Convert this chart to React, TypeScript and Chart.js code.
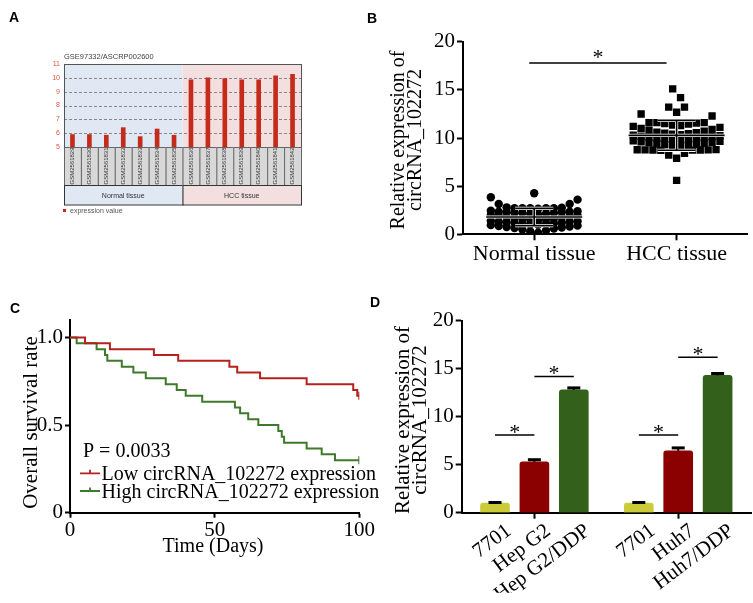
import React, { useEffect, useRef } from 'react';
import { Chart, registerables } from 'chart.js';
Chart.register(...registerables);

const SERIF = '"Liberation Serif", "Times New Roman", Times, serif';
const SANS = '"Liberation Sans", Arial, Helvetica, sans-serif';

// ---------------- Panel A data ----------------
const A_SAMPLES = ['GSM2561829', 'GSM2561830', 'GSM2561831', 'GSM2561832', 'GSM2561833', 'GSM2561834', 'GSM2561835', 'GSM2561836', 'GSM2561837', 'GSM2561838', 'GSM2561839', 'GSM2561840', 'GSM2561841', 'GSM2561842'];
const A_VALUES = [5.9, 5.9, 5.85, 6.4, 5.75, 6.3, 5.85, 9.85, 10.0, 9.95, 9.85, 9.85, 10.15, 10.25];
const A_GROUPS = ['Normal tissue', 'HCC tissue'];
const A_GROUP_SIZES = [7, 7];
const A_TITLE = 'GSE97332/ASCRP002600';
const A_LEGEND = 'expression value';
const A_Y_MIN = 5;
const A_Y_MAX = 11;

// ---------------- Panel B data ----------------
const B_CATEGORIES = ['Normal tissue', 'HCC tissue'];
const B_NORMAL = [0.17, 0.3, 0.4, 0.5, 0.6, 0.65, 0.7, 0.75, 0.8, 0.85, 0.9, 0.95,
  1.0, 1.05, 1.1, 1.1, 1.15, 1.2, 1.2, 1.25, 1.3, 1.3, 1.35, 1.4,
  1.45, 1.5, 1.55, 1.6, 1.65, 1.7, 1.75, 1.8, 1.85, 1.9, 1.95, 2.0,
  2.05, 2.1, 2.15, 2.2, 2.2, 2.25, 2.3, 2.3, 2.35, 2.35, 2.4, 2.45,
  2.65, 2.7, 2.7, 2.7, 2.7, 2.7, 2.75, 2.8, 3.15, 3.15, 3.6, 3.84,
  4.26];
const B_HCC = [5.6,
  7.9, 8.23, 8.4, 8.72, 8.74, 8.75, 8.75, 8.76, 8.77, 8.78, 8.8,
  9.15, 9.2, 9.25, 9.3, 9.35, 9.4, 9.45, 9.5, 9.55, 9.6, 9.65, 9.7,
  9.75, 9.8, 9.85, 9.9, 9.95, 10.0, 10.05, 10.1, 10.15, 10.2, 10.25, 10.3,
  10.35, 10.4, 10.45, 10.5, 10.55, 10.6, 10.7, 10.8, 10.9, 11.0, 11.1, 11.2,
  11.3, 11.35, 11.45, 11.5, 11.55, 11.6, 11.6, 11.6,
  12.28, 12.49, 12.67, 13.2, 13.2,
  14.2, 15.1];
const B_SIG_LABEL = '*';
const B_SIG_HEIGHT = 17.8;

// ---------------- Panel C data ----------------
const C_LOW_DAYS = [0, 5.2, 13.8, 29, 37.4, 55.1, 57.8, 65.7, 81.8, 97.9, 99.3, 100];
const C_LOW_SURV = [1, 0.967, 0.933, 0.9, 0.867, 0.833, 0.8, 0.767, 0.733, 0.7, 0.667, 0.667];
const C_HIGH_DAYS = [0, 2.3, 9.2, 12.1, 12.9, 17.9, 21.9, 26.2, 33.1, 36.9, 40.0, 45.7, 57.0, 58.8, 61.6, 65.1, 72.0, 73.2, 74.0, 81.8, 87.0, 91.6, 100];
const C_HIGH_SURV = [1, 0.967, 0.933, 0.9, 0.867, 0.833, 0.8, 0.767, 0.733, 0.7, 0.667, 0.633, 0.6, 0.567, 0.533, 0.5, 0.467, 0.433, 0.4, 0.367, 0.333, 0.3, 0.3];
const C_SERIES = ['Low circRNA_102272 expression', 'High circRNA_102272 expression'];
const C_COLORS = ['#b3221f', '#3d7a2b'];
const C_PVALUE = 'P = 0.0033';
const C_Y_TICKS = [0, 0.5, 1.0];
const C_X_TICKS = [0, 50, 100];

// ---------------- Panel D data ----------------
const D_LABELS = ['7701', 'Hep G2', 'Hep G2/DDP', '7701', 'Huh7', 'Huh7/DDP'];
const D_GROUP_OF = [0, 0, 0, 1, 1, 1];
const D_VALUES = [1.0, 5.3, 12.8, 1.0, 6.45, 14.3];
const D_ERRORS = [0.06, 0.22, 0.2, 0.06, 0.3, 0.2];
const D_COLORS = ['#cbcb38', '#8b0000', '#33601a', '#cbcb38', '#8b0000', '#33601a'];
const D_SIG_PAIRS = [[0, 1], [1, 2], [3, 4], [4, 5]];
const D_SIG_HEIGHTS = [8.1, 14.2, 8.1, 16.2];

const Y_TITLE = ['Relative expression of', 'circRNA_102272'];

// ---------------- helpers ----------------
function drawLetter(ctx: CanvasRenderingContext2D, t: string, x: number, y: number) {
  ctx.save();
  ctx.font = `bold 14px ${SANS}`;
  ctx.fillStyle = '#000';
  ctx.textAlign = 'left';
  ctx.textBaseline = 'alphabetic';
  ctx.fillText(t, x, y);
  ctx.restore();
}

function drawRotTitle(ctx: CanvasRenderingContext2D, lines: string[], xs: number[], cy: number, size: number) {
  ctx.save();
  ctx.font = `${size}px ${SERIF}`;
  ctx.fillStyle = '#000';
  ctx.textAlign = 'center';
  ctx.textBaseline = 'middle';
  lines.forEach((l, i) => {
    ctx.save();
    ctx.translate(xs[i], cy);
    ctx.rotate(-Math.PI / 2);
    ctx.fillText(l, 0, 0);
    ctx.restore();
  });
  ctx.restore();
}

// row-based spread: sorted values grouped into rows, lowest of each row in the centre
function swarm(values: number[], center: number, slot: number, rowH: number, maxPerRow: number) {
  const sorted = [...values].sort((a, b) => a - b);
  const rows: number[][] = [];
  let cur: number[] = [];
  for (const v of sorted) {
    if (cur.length && (v - cur[0] >= rowH || cur.length >= maxPerRow)) {
      rows.push(cur);
      cur = [];
    }
    cur.push(v);
  }
  if (cur.length) rows.push(cur);
  const pts: { x: number; y: number }[] = [];
  rows.forEach((row) => {
    const n = row.length;
    row.forEach((v, k) => {
      let s: number;
      if (n % 2 === 1) s = k === 0 ? 0 : k % 2 === 1 ? -(k + 1) / 2 : k / 2;
      else s = (k % 2 === 0 ? 1 : -1) * (Math.floor(k / 2) + 0.5);
      pts.push({ x: center + s * slot, y: v });
    });
  });
  return pts;
}

const mean = (a: number[]) => a.reduce((s, v) => s + v, 0) / a.length;
const sd = (a: number[]) => {
  const m = mean(a);
  return Math.sqrt(a.reduce((s, v) => s + (v - m) * (v - m), 0) / (a.length - 1));
};

const axisGrid = (tickLen: number, tickColor: any = '#000') => ({
  display: true,
  drawOnChartArea: false,
  drawTicks: true,
  tickLength: tickLen,
  tickWidth: 2,
  tickColor,
  offset: false,
});
const axisBorder = { display: true, color: '#000', width: 2 };

// ---------------- Panel A ----------------
function configA(): any {
  const bgs = ['#dfe8f3', '#f3dfdf'];
  const plugin = {
    id: 'panelA',
    beforeDatasetsDraw(chart: any) {
      const { ctx, chartArea: ca, scales } = chart;
      const y = scales.y;
      const w = (ca.right - ca.left) / A_SAMPLES.length;
      let start = 0;
      A_GROUP_SIZES.forEach((n, g) => {
        ctx.fillStyle = bgs[g];
        ctx.fillRect(ca.left + start * w, ca.top, n * w, ca.bottom - ca.top);
        start += n;
      });
      ctx.save();
      ctx.setLineDash([3, 2]);
      ctx.strokeStyle = '#888';
      ctx.lineWidth = 1;
      for (let v = A_Y_MIN + 1; v < A_Y_MAX; v++) {
        const py = Math.round(y.getPixelForValue(v)) + 0.5;
        ctx.beginPath();
        ctx.moveTo(ca.left, py);
        ctx.lineTo(ca.right, py);
        ctx.stroke();
      }
      ctx.restore();
    },
    afterDraw(chart: any) {
      const { ctx, chartArea: ca } = chart;
      const w = (ca.right - ca.left) / A_SAMPLES.length;
      ctx.save();
      ctx.strokeStyle = '#555';
      ctx.lineWidth = 1;
      ctx.strokeRect(ca.left + 0.5, ca.top + 0.5, ca.right - ca.left, ca.bottom - ca.top);
      const rowTop = ca.bottom;
      const rowBot = ca.bottom + 38;
      const grpBot = rowBot + 19.5;
      A_SAMPLES.forEach((s, i) => {
        const x0 = ca.left + i * w;
        ctx.fillStyle = '#d8d8d8';
        ctx.fillRect(x0, rowTop, w, rowBot - rowTop);
        ctx.strokeStyle = '#666';
        ctx.strokeRect(x0 + 0.5, rowTop + 0.5, w, rowBot - rowTop);
        ctx.save();
        ctx.translate(x0 + w / 2, (rowTop + rowBot) / 2);
        ctx.rotate(-Math.PI / 2);
        ctx.font = `6px ${SANS}`;
        ctx.fillStyle = '#333';
        ctx.textAlign = 'center';
        ctx.textBaseline = 'middle';
        ctx.fillText(s, 0, 0);
        ctx.restore();
      });
      let start = 0;
      A_GROUP_SIZES.forEach((n, g) => {
        const x0 = ca.left + start * w;
        ctx.fillStyle = bgs[g];
        ctx.fillRect(x0, rowBot, n * w, grpBot - rowBot);
        ctx.strokeStyle = '#333';
        ctx.strokeRect(x0 + 0.5, rowBot + 0.5, n * w, grpBot - rowBot);
        ctx.font = `7px ${SANS}`;
        ctx.fillStyle = '#333';
        ctx.textAlign = 'center';
        ctx.textBaseline = 'middle';
        ctx.fillText(A_GROUPS[g], x0 + (n * w) / 2, (rowBot + grpBot) / 2 + 1);
        start += n;
      });
      // legend
      ctx.fillStyle = '#c62a1a';
      ctx.fillRect(ca.left - 1, grpBot + 4.5, 3, 3);
      ctx.font = `7px ${SANS}`;
      ctx.fillStyle = '#555';
      ctx.textAlign = 'left';
      ctx.textBaseline = 'middle';
      ctx.fillText(A_LEGEND, ca.left + 6, grpBot + 6.5);
      // title
      ctx.font = `7.5px ${SANS}`;
      ctx.fillStyle = '#444';
      ctx.fillText(A_TITLE, ca.left, ca.top - 7);
      ctx.restore();
      drawLetter(ctx, 'A', 9, 22);
    },
  };
  return {
    type: 'bar',
    data: {
      labels: A_SAMPLES,
      datasets: [{ data: A_VALUES, backgroundColor: '#c62a1a', barThickness: 4 }],
    },
    options: {
      responsive: false,
      animation: false,
      devicePixelRatio: 1,
      layout: { padding: { left: 0, right: 29, top: 64, bottom: 143 } },
      plugins: { legend: { display: false }, tooltip: { enabled: false } },
      scales: {
        x: { display: false, offset: true },
        y: {
          min: A_Y_MIN,
          max: A_Y_MAX,
          ticks: { stepSize: 1, color: '#e0553b', font: { size: 7, family: SANS }, padding: 4 },
          grid: { display: false, drawTicks: false },
          border: { display: false },
          afterFit: (s: any) => { s.width = 64; },
        },
      },
    },
    plugins: [plugin],
  };
}

// ---------------- Panel B ----------------
function configB(): any {
  const slot = 8 / 144.5;
  const normalPts = swarm(B_NORMAL, 0.5, slot, 1.2, 12);
  const hccPts = swarm(B_HCC, 1.5, slot, 1.2, 12);
  const plugin = {
    id: 'panelB',
    afterDatasetsDraw(chart: any) {
      const { ctx, scales } = chart;
      const x = scales.x;
      const y = scales.y;
      [B_NORMAL, B_HCC].forEach((arr, i) => {
        const cx = x.getPixelForValue(i + 0.5);
        const m = mean(arr);
        const s = sd(arr);
        const ym = y.getPixelForValue(m);
        const yt = y.getPixelForValue(m + s);
        const yb = y.getPixelForValue(m - s);
        const segs: number[][] = [
          [cx - 48, ym, cx + 48, ym],
          [cx, yt, cx, yb],
          [cx - 19, yt, cx + 19, yt],
          [cx - 19, yb, cx + 19, yb],
        ];
        [['#fff', 3.2], ['#000', 1.6]].forEach(([col, lw]) => {
          ctx.save();
          ctx.strokeStyle = col as string;
          ctx.lineWidth = lw as number;
          segs.forEach((sg) => {
            ctx.beginPath();
            ctx.moveTo(sg[0], sg[1]);
            ctx.lineTo(sg[2], sg[3]);
            ctx.stroke();
          });
          ctx.restore();
        });
      });
      // significance
      const x1 = x.getPixelForValue(0.5) - 5;
      const x2 = x.getPixelForValue(1.5) - 10;
      const ys = y.getPixelForValue(B_SIG_HEIGHT);
      ctx.save();
      ctx.strokeStyle = '#000';
      ctx.lineWidth = 1.5;
      ctx.beginPath();
      ctx.moveTo(x1, ys);
      ctx.lineTo(x2, ys);
      ctx.stroke();
      ctx.font = `22px ${SERIF}`;
      ctx.fillStyle = '#000';
      ctx.textAlign = 'center';
      ctx.textBaseline = 'alphabetic';
      ctx.fillText(B_SIG_LABEL, (x1 + x2) / 2, ys + 1.6);
      ctx.restore();
    },
    afterDraw(chart: any) {
      drawRotTitle(chart.ctx, Y_TITLE, [68.5, 85.5], 140, 20);
      drawLetter(chart.ctx, 'B', 37, 23);
    },
  };
  return {
    type: 'scatter',
    data: {
      datasets: [
        { data: normalPts, pointStyle: 'circle', pointRadius: 4.2, backgroundColor: '#000', borderColor: '#000', borderWidth: 0 },
        { data: hccPts, pointStyle: 'rect', pointRadius: 5.2, backgroundColor: '#000', borderColor: '#000', borderWidth: 0 },
      ],
    },
    options: {
      responsive: false,
      animation: false,
      devicePixelRatio: 1,
      layout: { padding: { left: 0, right: 1, top: 41.7, bottom: 15.7 } },
      plugins: { legend: { display: false }, tooltip: { enabled: false } },
      scales: {
        x: {
          type: 'linear',
          min: 0,
          max: 2,
          afterBuildTicks: (s: any) => { s.ticks = B_CATEGORIES.map((_, i) => ({ value: i + 0.5 })); },
          ticks: { callback: (_v: any, i: number) => B_CATEGORIES[i], font: { family: SERIF, size: 22 }, color: '#000', padding: 1, autoSkip: false, maxRotation: 0 },
          grid: axisGrid(6),
          border: axisBorder,
          afterFit: (s: any) => { s.height = 40; },
        },
        y: {
          min: 0,
          max: 20,
          ticks: { stepSize: 5, font: { family: SERIF, size: 21 }, color: '#000', padding: 2 },
          grid: axisGrid(6),
          border: axisBorder,
          afterFit: (s: any) => { s.width = 133; },
        },
      },
    },
    plugins: [plugin],
  };
}

// ---------------- Panel C ----------------
function configC(): any {
  const mk = (days: number[], surv: number[], color: string, label: string) => ({
    label,
    data: days.map((d, i) => ({ x: d, y: surv[i] })),
    borderColor: color,
    backgroundColor: color,
    borderWidth: 2,
    stepped: 'before',
    fill: false,
    pointStyle: 'line',
    rotation: 90,
    pointRadius: (c: any) => (c.dataIndex === days.length - 1 ? 4 : 0),
    pointBorderWidth: 2,
    pointBorderColor: color,
  });
  const plugin = {
    id: 'panelC',
    afterDraw(chart: any) {
      const { ctx } = chart;
      ctx.save();
      ctx.fillStyle = '#000';
      ctx.font = `20px ${SERIF}`;
      ctx.textAlign = 'left';
      ctx.textBaseline = 'alphabetic';
      ctx.fillText(C_PVALUE, 83, 166.5);
      const rows = [183.3, 201];
      C_SERIES.forEach((s, i) => {
        const ly = rows[i];
        ctx.strokeStyle = C_COLORS[i];
        ctx.lineWidth = 1.8;
        ctx.beginPath();
        ctx.moveTo(80, ly);
        ctx.lineTo(100, ly);
        ctx.moveTo(90, ly);
        ctx.lineTo(90, ly - 3.5);
        ctx.stroke();
        ctx.fillStyle = '#000';
        ctx.fillText(s, 101.5, ly + 6.5);
      });
      ctx.textAlign = 'center';
      ctx.fillText('Time (Days)', 213, 261.5);
      ctx.restore();
      drawRotTitle(ctx, ['Overall survival rate'], [31], 132.5, 21);
      drawLetter(ctx, 'C', 10, 23);
    },
  };
  return {
    type: 'line',
    data: {
      datasets: [
        mk(C_LOW_DAYS, C_LOW_SURV, C_COLORS[0], C_SERIES[0]),
        mk(C_HIGH_DAYS, C_HIGH_SURV, C_COLORS[1], C_SERIES[1]),
      ],
    },
    options: {
      responsive: false,
      animation: false,
      devicePixelRatio: 1,
      layout: { padding: { left: 0, right: 40.7, top: 30, bottom: 50.3 } },
      plugins: { legend: { display: false }, tooltip: { enabled: false } },
      elements: { line: { tension: 0 } },
      scales: {
        x: {
          type: 'linear',
          min: 0,
          max: 100,
          afterBuildTicks: (s: any) => { s.ticks = C_X_TICKS.map((v) => ({ value: v })); },
          ticks: { font: { family: SERIF, size: 21 }, color: '#000', padding: 0, maxRotation: 0 },
          grid: axisGrid(5),
          border: axisBorder,
          afterFit: (s: any) => { s.height = 40; },
        },
        y: {
          min: 0,
          max: 1.1,
          afterBuildTicks: (s: any) => { s.ticks = C_Y_TICKS.map((v) => ({ value: v })); },
          ticks: { font: { family: SERIF, size: 21 }, color: '#000', padding: 2, callback: (v: number) => (v === 0 ? '0' : v.toFixed(1)) },
          grid: axisGrid(5),
          border: axisBorder,
          afterFit: (s: any) => { s.width = 70; },
        },
      },
    },
    plugins: [plugin],
  };
}

// ---------------- Panel D ----------------
const D_GROUP_STRIDE = 3.65;
const dPos = (i: number) => D_GROUP_OF[i] * D_GROUP_STRIDE + (i % 3);

function configD(): any {
  const plugin = {
    id: 'panelD',
    afterDatasetsDraw(chart: any) {
      const { ctx, scales } = chart;
      const x = scales.x;
      const y = scales.y;
      ctx.save();
      ctx.strokeStyle = '#000';
      D_VALUES.forEach((v, i) => {
        const px = x.getPixelForValue(dPos(i));
        const yt = y.getPixelForValue(v);
        const ye = y.getPixelForValue(v + D_ERRORS[i]);
        ctx.lineWidth = 2;
        ctx.beginPath();
        ctx.moveTo(px, yt);
        ctx.lineTo(px, ye);
        ctx.stroke();
        ctx.lineWidth = 3;
        ctx.beginPath();
        ctx.moveTo(px - 6.5, ye);
        ctx.lineTo(px + 6.5, ye);
        ctx.stroke();
      });
      D_SIG_PAIRS.forEach(([a, b], k) => {
        const x1 = x.getPixelForValue(dPos(a));
        const x2 = x.getPixelForValue(dPos(b));
        const ys = y.getPixelForValue(D_SIG_HEIGHTS[k]);
        ctx.lineWidth = 1.5;
        ctx.beginPath();
        ctx.moveTo(x1, ys);
        ctx.lineTo(x2, ys);
        ctx.stroke();
        ctx.font = `22px ${SERIF}`;
        ctx.fillStyle = '#000';
        ctx.textAlign = 'center';
        ctx.textBaseline = 'alphabetic';
        ctx.fillText('*', (x1 + x2) / 2, ys + 4);
      });
      ctx.restore();
    },
    afterDraw(chart: any) {
      drawRotTitle(chart.ctx, Y_TITLE, [33.5, 50.5], 130, 21);
      drawLetter(chart.ctx, 'D', 0, 17);
    },
  };
  return {
    type: 'bar',
    data: {
      datasets: [{
        data: D_VALUES.map((v, i) => ({ x: dPos(i), y: v })),
        backgroundColor: D_COLORS,
        borderWidth: 0,
        borderRadius: { topLeft: 3, topRight: 3, bottomLeft: 0, bottomRight: 0 },
        borderSkipped: 'bottom',
        barThickness: 29,
      }],
    },
    options: {
      responsive: false,
      animation: false,
      devicePixelRatio: 1,
      layout: { padding: { left: 0, right: 1.3, top: 30.7, bottom: 10.3 } },
      plugins: { legend: { display: false }, tooltip: { enabled: false } },
      scales: {
        x: {
          type: 'linear',
          offset: false,
          min: -0.845,
          max: 6.515,
          afterBuildTicks: (s: any) => { s.ticks = D_LABELS.map((_, i) => ({ value: dPos(i) })); },
          ticks: { callback: (_v: any, i: number) => D_LABELS[i], font: { family: SERIF, size: 21 }, color: '#000', padding: 0, autoSkip: false, minRotation: 37, maxRotation: 37, labelOffset: 14 },
          grid: axisGrid(6, (c: any) => (c.index % 3 === 1 ? '#000' : 'rgba(0,0,0,0)')),
          border: axisBorder,
          afterFit: (s: any) => { s.height = 80; },
        },
        y: {
          min: 0,
          max: 20,
          ticks: { stepSize: 5, font: { family: SERIF, size: 21 }, color: '#000', padding: 2 },
          grid: axisGrid(6),
          border: axisBorder,
          afterFit: (s: any) => { s.width = 91.7; },
        },
      },
    },
    plugins: [plugin],
  };
}

export default function App() {
  const aRef = useRef<HTMLCanvasElement>(null);
  const bRef = useRef<HTMLCanvasElement>(null);
  const cRef = useRef<HTMLCanvasElement>(null);
  const dRef = useRef<HTMLCanvasElement>(null);
  useEffect(() => {
    const charts = [
      new Chart(aRef.current as HTMLCanvasElement, configA()),
      new Chart(bRef.current as HTMLCanvasElement, configB()),
      new Chart(cRef.current as HTMLCanvasElement, configC()),
      new Chart(dRef.current as HTMLCanvasElement, configD()),
    ];
    return () => charts.forEach((c) => c.destroy());
  }, []);
  const pos = (l: number, t: number, w: number, h: number): React.CSSProperties => ({ position: 'absolute', left: l, top: t, width: w, height: h });
  return (
    <div style={{ position: 'absolute', left: 0, top: 0, width: 753, height: 603, background: '#fff', overflow: 'hidden' }}>
      <canvas ref={aRef} width={330} height={290} style={pos(0, 0, 330, 290)} />
      <canvas ref={bRef} width={423} height={290} style={pos(330, 0, 423, 290)} />
      <canvas ref={cRef} width={400} height={313} style={pos(0, 290, 400, 313)} />
      <canvas ref={dRef} width={383} height={313} style={pos(370, 290, 383, 313)} />
    </div>
  );
}
